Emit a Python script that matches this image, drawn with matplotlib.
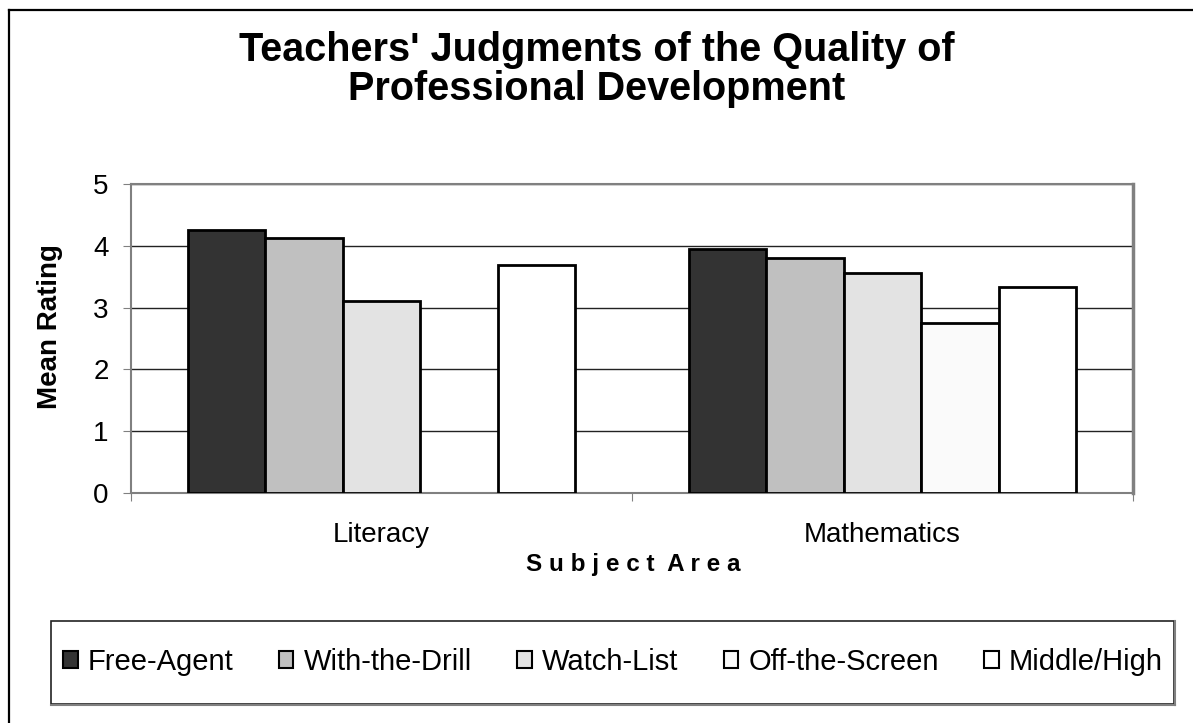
import matplotlib
matplotlib.use("Agg")
import matplotlib.pyplot as plt
import numpy as np
from matplotlib.patches import Rectangle
from matplotlib.lines import Line2D

plt.rcParams['font.family'] = ['Liberation Sans', 'DejaVu Sans']

categories = ["Literacy", "Mathematics"]
series_names = ["Free-Agent", "With-the-Drill", "Watch-List", "Off-the-Screen", "Middle/High"]
free_agent = [4.25, 3.95]
with_the_drill = [4.12, 3.81]
watch_list = [3.10, 3.56]
off_the_screen = [np.nan, 2.75]
middle_high = [3.69, 3.34]
series_values = [free_agent, with_the_drill, watch_list, off_the_screen, middle_high]
colors = ["#333333", "#C0C0C0", "#E3E3E3", "#FAFAFA", "#FFFFFF"]
yticks = [0, 1, 2, 3, 4, 5]

W, H = 1193, 723
fig = plt.figure(figsize=(W/100, H/100), dpi=100)
fig.patch.set_facecolor("white")
# outer border (only left and top visible)
fig.add_artist(Line2D([9/W, 9/W], [0, 1-10/H], transform=fig.transFigure, color="black", lw=1.6))
fig.add_artist(Line2D([9/W, 1], [1-10/H, 1-10/H], transform=fig.transFigure, color="black", lw=1.6))

ax = fig.add_axes([131/W, 1-493/H, (1133-131)/W, (493-184)/H])
n = len(series_names)
bw = 1/6.46
x = np.arange(len(categories))
for i, (name, vals, c) in enumerate(zip(series_names, series_values, colors)):
    offs = (i - (n-1)/2) * bw
    ax.bar(x + offs, vals, width=bw, color=c, edgecolor="black", linewidth=2.0,
           label=name, zorder=3)

ax.set_xlim(-0.5, 1.5)
ax.set_ylim(0, 5)
ax.set_yticks(yticks)
ax.set_yticklabels([str(t) for t in yticks], fontsize=20)
ax.yaxis.grid(True, color="#222222", linewidth=1.0, zorder=0)
ax.set_axisbelow(True)
ax.set_xticks([-0.5, 0.5, 1.5])
ax.set_xticklabels([])
ax.set_xticks(x, minor=True)
ax.set_xticklabels(categories, minor=True, fontsize=20)
ax.tick_params(axis='x', which='minor', length=0, pad=21)
ax.tick_params(axis='x', which='major', length=6, color="#808080", direction='out')
ax.tick_params(axis='y', length=6, color="#808080", direction='out', pad=10)
for s in ["left", "bottom", "top"]:
    ax.spines[s].set_color("#808080")
    ax.spines[s].set_linewidth(1.5)
ax.spines["right"].set_color("#808080")
ax.spines["right"].set_linewidth(2.5)

fig.text(0.5, 1-50/H, "Teachers' Judgments of the Quality of", ha="center", va="center",
         fontsize=28.5, fontweight="bold")
fig.text(0.5, 1-89/H, "Professional Development", ha="center", va="center",
         fontsize=28.5, fontweight="bold")
fig.text(50/W, 1-327/H, "Mean Rating", rotation=90, ha="center", va="center",
         fontsize=20, fontweight="bold")
fig.text(633/W, 1-564/H, "S u b j e c t   A r e a".replace("   ", "  "), ha="center", va="center",
         fontsize=17.5, fontweight="bold")

# legend box
fig.add_artist(Rectangle((51/W, 1-704/H), (1174-51)/W, (704-621)/H, transform=fig.transFigure,
                         fill=True, facecolor="white", edgecolor="#222222", linewidth=1.2))
fig.add_artist(Line2D([51/W, 1175/W], [1-704.5/H, 1-704.5/H], transform=fig.transFigure,
                      color="#808080", lw=1.5))
fig.add_artist(Line2D([1174.5/W, 1174.5/W], [1-704.5/H, 1-621/H], transform=fig.transFigure,
                      color="#808080", lw=1.5))
handles = [Rectangle((0, 0), 1, 1, facecolor=c, edgecolor="black", linewidth=1.5) for c in colors]
leg = fig.legend(handles, series_names, loc="center", bbox_to_anchor=(613/W, 1-662/H),
                 ncol=5, frameon=False, fontsize=21, handlelength=0.5, handleheight=0.5,
                 handletextpad=0.35, columnspacing=1.55)

fig.savefig("out.png", dpi=100)
